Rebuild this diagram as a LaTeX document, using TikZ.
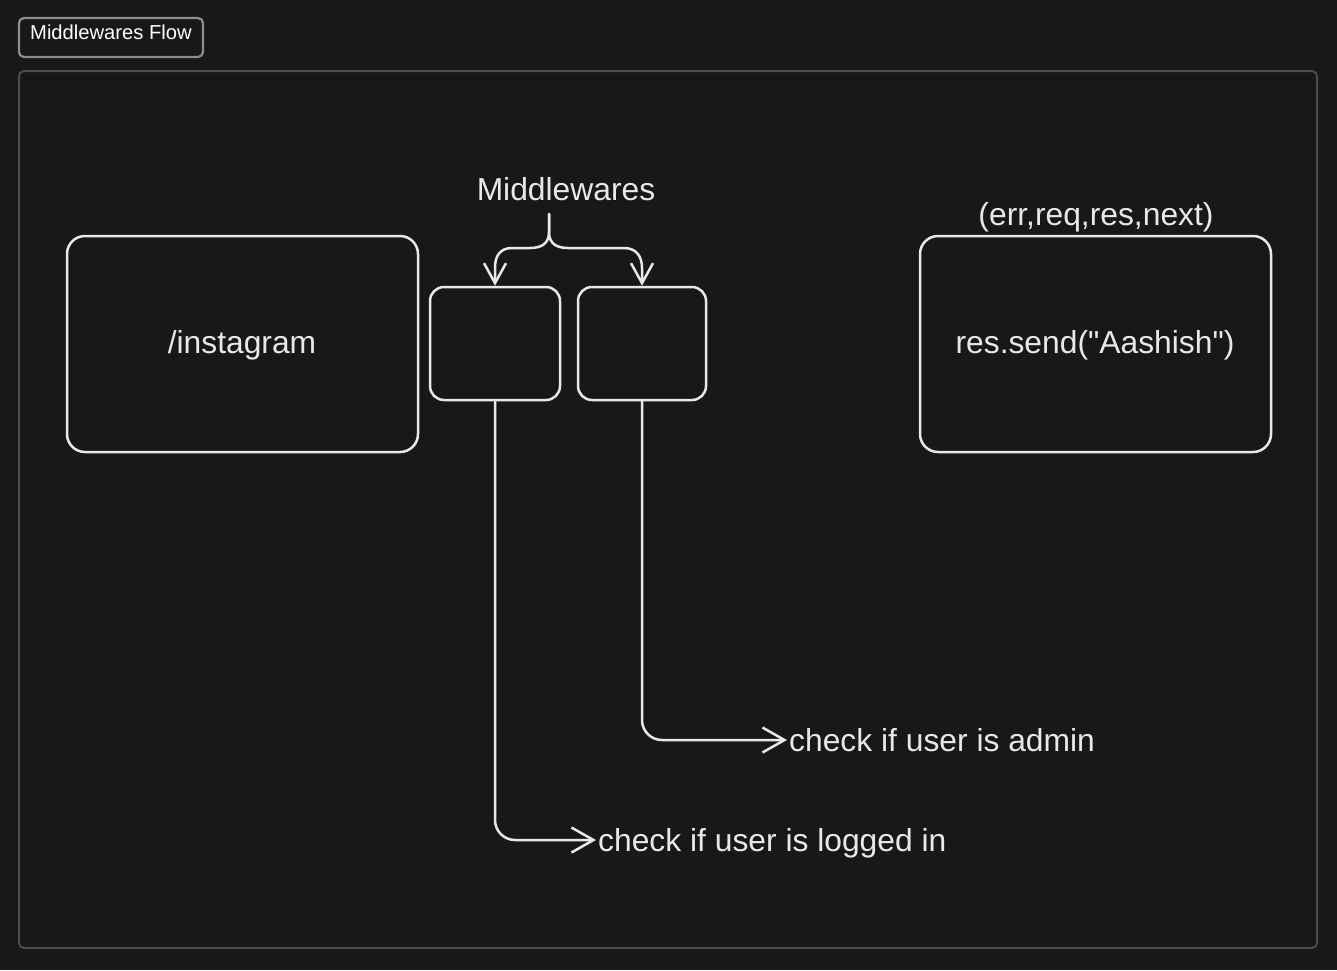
\documentclass[tikz,border=0pt]{standalone}
\usepackage{fontspec}
\setmainfont{Liberation Sans}
\newfontfamily\plainsans{Liberation Sans}
\usetikzlibrary{arrows.meta}
\definecolor{bg}{HTML}{181818}
\definecolor{ink}{HTML}{E8E8E8}
\definecolor{framec}{HTML}{4C4C4C}
\definecolor{titlec}{HTML}{8E8E8E}
\begin{document}
\begin{tikzpicture}[x=1pt,y=-1pt,
  ln/.style={draw=ink, line width=2.5pt, line cap=round, line join=round},
  bigbox/.style={ln, rounded corners=18pt, minimum width=351pt, minimum height=216pt, inner sep=0pt},
  mwbox/.style={ln, rounded corners=14pt, minimum height=113pt, inner sep=0pt},
  lbl/.style={text=ink, font=\fontsize{31.8}{36}\selectfont, inner sep=2pt},
  side/.style={lbl, text height=23pt, text depth=0pt, anchor=west},
  barb/.style={-{Straight Barb[length=22pt,width=25pt,line width=2.5pt]}},
  dbarb/.style={-{Straight Barb[length=20pt,width=22pt,line width=2.5pt]}}
]
\fill[bg] (0,0) rectangle (1337,970);
\useasboundingbox (0,0) rectangle (1337,970);

% frame and title
\node[draw=framec, line width=2pt, rounded corners=5pt, minimum width=1298pt, minimum height=877pt, inner sep=0pt] (frame) at (668,509.5) {};
\node[draw=titlec, line width=2.2pt, rounded corners=5pt, minimum width=184pt, minimum height=39pt, inner sep=0pt] (titlebox) at (111,37.5) {};
\node[text=white, font=\fontsize{20.2}{24}\selectfont, inner sep=0pt] (titletext) at (111,32) {Middlewares Flow};

% boxes
\node[bigbox] (insta) at (242.5,344) {};
\node[lbl] (instat) at (242,345) {/instagram};
\node[mwbox, minimum width=130pt] (mw1) at (495,343.5) {};
\node[mwbox, minimum width=128pt] (mw2) at (642,343.5) {};
\node[bigbox] (res) at (1095.5,344) {};
\node[lbl] (rest) at (1095,345) {\plainsans res.send("Aashish")};
\node[lbl] (args) at (1096,217) {(err,req,res,next)};

% middlewares brace
\node[lbl] (mwl) at (566,189) {Middlewares};
\coordinate (stem) at (549,214);
\draw[ln, dbarb] (stem) -- (549,232) .. controls (549,244) and (541,248) .. (530,248) -- (512,248) .. controls (500,248) and (495,256) .. (495,268) -- (mw1.north);
\draw[ln, dbarb] (stem) -- (549,232) .. controls (549,244) and (557,248) .. (568,248) -- (624,248) .. controls (636,248) and (642,256) .. (642,268) -- (mw2.north);

% side notes
\node[side] (t1) at (596,840) {check if user is logged in};
\node[side] (t2) at (787,740) {check if user is admin};
\draw[ln, barb, rounded corners=20pt] (mw1.south) |- (t1.west);
\draw[ln, barb, rounded corners=20pt] (mw2.south) |- (t2.west);
\end{tikzpicture}
\end{document}
